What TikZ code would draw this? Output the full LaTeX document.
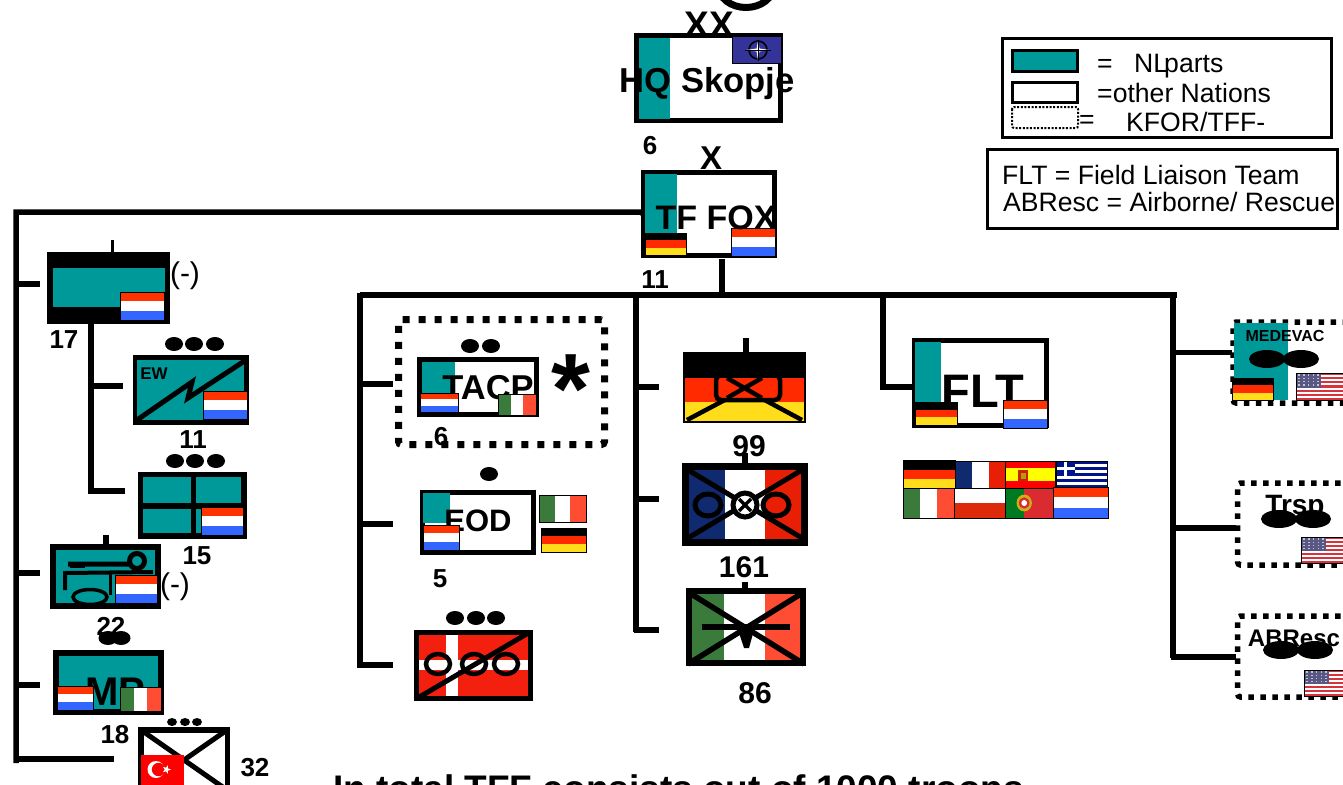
\documentclass[tikz,border=0pt]{standalone}
\usepackage{fontspec}
\setmainfont{Liberation Sans}
\definecolor{nlteal}{HTML}{009999}
\definecolor{nlred}{HTML}{FF3300}
\definecolor{nlblue}{HTML}{3366FF}
\definecolor{dered}{HTML}{FF2A00}
\definecolor{degold}{HTML}{FFDD1A}
\definecolor{itgreen}{HTML}{3A7A3A}
\definecolor{itred}{HTML}{FF4D33}
\definecolor{frblue}{HTML}{0F2A6E}
\definecolor{frred}{HTML}{E81E05}
\definecolor{dkred}{HTML}{F32010}
\definecolor{natoblue}{HTML}{333399}
\definecolor{usblue}{HTML}{3C3B6E}
\definecolor{usred}{HTML}{D8323C}
\definecolor{grblue}{HTML}{00148C}
\definecolor{ptgreen}{HTML}{007A20}
\definecolor{ptred}{HTML}{D92B30}
\definecolor{plred}{HTML}{DC2A0A}
\definecolor{esyellow}{HTML}{FFFF00}
\tikzset{
  unitbox/.style={draw=black,line width=#1,fill=white,inner sep=0pt,anchor=north west,outer sep=0pt},
  unitbox/.default=5pt,
  bus/.style={draw=black,line width=5.5pt,line cap=butt,line join=miter},
  dotbox/.style={draw=black,line width=5.5pt,dash pattern=on 5.5pt off 6.5pt,rounded corners=3pt,inner sep=0pt,anchor=north west,outer sep=0pt},
  bigdotbox/.style={draw=black,line width=7pt,dash pattern=on 7pt off 9pt,rounded corners=3pt,inner sep=0pt,anchor=north west,outer sep=0pt},
  legbox/.style={draw,line width=3pt,inner sep=0pt,outer sep=0pt,anchor=north west},
  lab/.style={font=\fontsize{26}{28}\selectfont\bfseries,inner sep=0pt},
  num/.style={font=\fontsize{26}{28}\selectfont\bfseries,inner sep=0pt},
  plain/.style={font=\fontsize{26.6}{28}\selectfont,inner sep=0pt,anchor=west},
}
% #1 name, #2 x1, #3 y1, #4 x2, #5 y2, #6 line width (outer box edge measured)
\newcommand\ubox[6]{\pgfmathsetmacro\bw{#4-#2-#6}\pgfmathsetmacro\bh{#5-#3-#6}%
  \pgfmathsetmacro\bx{#2+#6/2}\pgfmathsetmacro\by{#3+#6/2}%
  \node[unitbox=#6pt,minimum width=\bw pt,minimum height=\bh pt] (#1) at (\bx,\by) {};}
\newcommand\rt[5]{\fill[#5] (#1,#2) rectangle (#3,#4);}
\newcommand\flagNL[4]{\begin{scope}[shift={(#1,#2)},xscale=#3,yscale=#4]
  \fill[white](0,0) rectangle (1,1);\fill[nlred](0,0) rectangle (1,.33);\fill[nlblue](0,.67) rectangle (1,1);
  \draw[line width=1pt](0,0) rectangle (1,1);\end{scope}}
\newcommand\flagDE[4]{\begin{scope}[shift={(#1,#2)},xscale=#3,yscale=#4]
  \fill[black](0,0) rectangle (1,.34);\fill[dered](0,.34) rectangle (1,.67);\fill[degold](0,.67) rectangle (1,1);
  \draw[line width=1pt](0,0) rectangle (1,1);\end{scope}}
\newcommand\flagIT[4]{\begin{scope}[shift={(#1,#2)},xscale=#3,yscale=#4]
  \fill[white](0,0) rectangle (1,1);\fill[itgreen](0,0) rectangle (.33,1);\fill[itred](.67,0) rectangle (1,1);
  \draw[line width=1pt](0,0) rectangle (1,1);\end{scope}}
\newcommand\flagFR[4]{\begin{scope}[shift={(#1,#2)},xscale=#3,yscale=#4]
  \fill[white](0,0) rectangle (1,1);\fill[frblue](0,0) rectangle (.33,1);\fill[frred](.67,0) rectangle (1,1);
  \draw[line width=.8pt](0,0) rectangle (1,1);\end{scope}}
\newcommand\flagES[4]{\begin{scope}[shift={(#1,#2)},xscale=#3,yscale=#4]
  \fill[red](0,0) rectangle (1,1);\fill[esyellow](0,.25) rectangle (1,.75);
  \fill[dered!80!black](.26,.35) rectangle (.46,.75);\fill[degold!70!black](.31,.45) rectangle (.41,.65);
  \draw[line width=.8pt](0,0) rectangle (1,1);\end{scope}}
\newcommand\flagGR[4]{\begin{scope}[shift={(#1,#2)},xscale=#3,yscale=#4]
  \fill[white](0,0) rectangle (1,1);
  \foreach \i in {0,2,4,6,8}{\fill[grblue](0,\i/9) rectangle (1,\i/9+1/9);}
  \fill[grblue](0,0) rectangle (.37,.55);
  \fill[white](.15,0) rectangle (.22,.55);\fill[white](0,.22) rectangle (.37,.33);
  \draw[line width=.8pt](0,0) rectangle (1,1);\end{scope}}
\newcommand\flagPL[4]{\begin{scope}[shift={(#1,#2)},xscale=#3,yscale=#4]
  \fill[white](0,0) rectangle (1,.5);\fill[plred](0,.5) rectangle (1,1);
  \draw[line width=.8pt](0,0) rectangle (1,1);\end{scope}}
\newcommand\flagPT[4]{\begin{scope}[shift={(#1,#2)},xscale=#3,yscale=#4]
  \fill[ptred](0,0) rectangle (1,1);\fill[ptgreen](0,0) rectangle (.4,1);
  \fill[degold!80!black](.4,.5) ellipse (.16 and .28);\fill[ptred](.4,.5) ellipse (.11 and .19);\fill[white](.4,.5) ellipse (.06 and .1);
  \draw[line width=.8pt](0,0) rectangle (1,1);\end{scope}}
\newcommand\flagUS[4]{\begin{scope}[shift={(#1,#2)},xscale=#3,yscale=#4]
  \fill[white](0,0) rectangle (1,1);
  \foreach \i in {0,2,4,6,8,10,12}{\fill[usred](0,\i/13) rectangle (1,\i/13+1/13);}
  \fill[usblue!85!white](0,0) rectangle (.42,.54);
  \foreach \u in {.05,.13,.21,.29,.37}{\foreach \v in {.08,.2,.32,.44}{\fill[white!70!usblue](\u-.012,\v-.025) rectangle (\u+.012,\v+.025);}}
  \draw[line width=1pt](0,0) rectangle (1,1);\end{scope}}
\newcommand\rankdots[3]{\foreach \dx in {#1}{\fill[black](\dx,#2) ellipse (#3);}}
\begin{document}
\begin{tikzpicture}[x=1pt,y=-1pt]
\useasboundingbox (0,0) rectangle (1343,784);
\clip (0,0) rectangle (1343,784);
\fill[white] (0,0) rectangle (1343,784);

% cut-off shape at the top
\draw[line width=7pt] (746,-14) ellipse (27.5 and 21.5);

% ---------- HQ
\ubox{hq}{634}{33}{783}{123}{5}
\rt{639}{38}{670}{119}{nlteal}
\fill[natoblue] (732,37) rectangle (781,64);
\draw[line width=1pt] (732,37) rectangle (781,64);
\draw[black,line width=1.6pt] (758,50) circle (9);
\fill[white] (758,41)--(759.5,48.5)--(769,50)--(759.5,51.5)--(758,60)--(756.5,51.5)--(746,50)--(756.5,48.5)--cycle;
\draw[black,line width=.6pt] (745,50)--(771,50) (758,40)--(758,61);
\node[lab,font=\fontsize{37}{38}\selectfont\bfseries] (xx) at (709,25) {XX};
\node[lab,font=\fontsize{34.6}{36}\selectfont\bfseries] (hqt) at (707,84) {HQ Skopje};
\node[num] (n6a) at (650,146) {6};

% ---------- TF FOX
\ubox{fox}{641}{170}{777}{258}{5}
\rt{645}{174}{677}{233}{nlteal}
\flagDE{645}{233}{41}{22}
\flagNL{731}{228}{44}{28}
\node[lab,font=\fontsize{33}{35}\selectfont\bfseries] (xs) at (711,158.5) {X};
\node[lab,font=\fontsize{34}{36}\selectfont\bfseries] (foxt) at (716,218) {TF FOX};
\node[num] (n11a) at (655,280) {11};

% ---------- Legends
\node[legbox,minimum width=329pt,minimum height=98pt] (leg1) at (1002,39) {};
\fill[nlteal,draw=black,line width=3pt] (1012,51) rectangle (1077,71);
\draw[line width=3pt] (1012,82) rectangle (1077,102);
\draw[line width=2pt,dash pattern=on 2pt off 1.6pt,rounded corners=2pt] (1012,107) rectangle (1078,128);
\node[plain] (l1) at (1097,66) {=};
\node[plain] (l1b) at (1134,66) {NL\kern-4pt parts};
\node[plain] (l2) at (1097,93) {=other Nations};
\node[plain] (l3a) at (1079,122) {=};
\node[plain] (l3) at (1126,122) {KFOR/TFF-};
\node[legbox,minimum width=350pt,minimum height=79pt] (leg2) at (987.5,149.5) {};
\node[plain] (l4) at (1002,175) {FLT = Field Liaison Team};
\node[plain] (l5) at (1003,202) {ABResc = Airborne/ Rescue};

% ---------- left group
\ubox{a17}{47}{252}{170}{324}{5}
\fill[black] (47,252) rectangle (170,324);
\rt{53}{268}{165}{307}{nlteal}
\flagNL{120}{292}{44}{28}
\coordinate (a17top) at (112,240);
\draw[line width=3pt] (a17top)--(112,252);
\node[font=\fontsize{30}{32}\selectfont,inner sep=0pt] (m1) at (185,276) {(-)};
\node[num] (n17) at (64,340) {17};

\ubox{ew}{133}{355}{249}{425}{6}
\rt{137}{360}{244}{420}{nlteal}
\draw[line width=5pt,line join=miter] (137,420)--(192,382)--(188,398)--(246,360);
\flagNL{203}{391}{44}{28}
\node[font=\fontsize{17}{18}\selectfont\bfseries,inner sep=0pt] (ewt) at (154,374) {EW};
\rankdots{174,194,215}{344}{9 and 7}
\node[num] (n11b) at (193,440) {11};

\ubox{b15}{138}{472}{247}{539}{6}
\rt{143}{477}{241}{533}{nlteal}
\draw[line width=5.5pt] (193.5,472)--(193.5,539) (138,506)--(247,506);
\flagNL{201}{507}{42}{28}
\rankdots{175,195,216}{461}{9 and 7}
\node[num] (n15) at (197,556) {15};

\ubox{c22}{50}{544}{161}{609}{6}
\rt{56}{550}{155}{603}{nlteal}
\draw[line width=5pt] (68,564)--(129,564) (137,561) circle (7.5);
\draw[line width=4pt] (70,566)--(85,566);
\draw[line width=4pt] (65,590)--(65,573)--(153,572);
\draw[line width=3pt] (110,574)--(110,595);
\draw[line width=3.5pt] (90,597) ellipse (17 and 7.5);
\flagNL{115}{575}{42}{28}
\coordinate (c22top) at (106,535);
\draw[line width=5.5pt] (c22top)--(106,544);
\node[font=\fontsize{30}{32}\selectfont,inner sep=0pt] (m2) at (175,587) {(-)};
\node[num] (n22) at (111,626) {22};

\ubox{mp}{53}{650}{164}{715}{6}
\rt{59}{656}{158}{709}{nlteal}
\node[lab,font=\fontsize{40}{42}\selectfont\bfseries] (mpt) at (115,692) {MP};
\flagNL{57}{686}{36}{24}
\flagIT{120}{687}{41}{24}
\rankdots{108,121}{638}{9.5 and 7}
\node[num] (n18) at (115,735) {18};

\ubox{tu}{138}{727}{230}{800}{5.5}
\draw[line width=5pt] (141,730)--(227,790) (227,730)--(141,790);
\fill[red] (141,755) rectangle (184,786);
\fill[white] (156,769.5) circle (8.5);
\fill[red] (158.5,769.5) circle (6.7);
\fill[white] (171,769.5)--(168,768.4)--(167.9,765.2)--(166,767.7)--(163,766.8)--(164.7,769.5)--(163,772.2)--(166,771.3)--(167.9,773.8)--(168,770.6)--cycle;
\rankdots{172,185,197}{722}{5 and 4}
\node[num] (n32) at (255,768) {32};

% left bus
\coordinate (lcorner) at (16,212);
\coordinate (lbot) at (16,763);
\draw[bus] (fox.west)--(640,212)--(lcorner)--(lbot);
\coordinate (j17) at (40,284);\draw[bus] (16,284)--(j17);
\coordinate (j22) at (40,573);\draw[bus] (16,573)--(j22);
\coordinate (jmp) at (40,685);\draw[bus] (16,685)--(jmp);
\coordinate (jtu) at (114,759);\draw[bus] (16,759)--(jtu);
\coordinate (s17) at (91,324);
\coordinate (s15) at (91,491);
\coordinate (jew) at (123,386);
\coordinate (j15) at (125,491);
\draw[bus] (s17)--(s15)--(j15);
\draw[bus] (91,386)--(jew);

% central bus
\coordinate (busL) at (360,295);
\coordinate (busR) at (1177,295);
\draw[bus] (722,259)--(722,295);
\draw[bus] (busL)--(busR);
\draw[bus] (360,293)--(360,667.5);
\coordinate (j1a) at (393,384);\draw[bus] (360,384)--(j1a);
\coordinate (j1b) at (393,524);\draw[bus] (360,524)--(j1b);
\coordinate (j1c) at (393,665);\draw[bus] (358,665)--(j1c);
\draw[bus] (636,293)--(636,632);
\coordinate (j2a) at (659,387);\draw[bus] (636,387)--(j2a);
\coordinate (j2b) at (659,499);\draw[bus] (636,499)--(j2b);
\coordinate (j2c) at (659,630);\draw[bus] (634,630)--(j2c);
\draw[bus] (883,293)--(883,387)--(912,387);
\draw[bus] (1173,293)--(1173,658);
\draw[bus] (1173,352.5)--(1232,352.5);
\draw[bus] (1173,528)--(1236,528);
\draw[bus] (1171,657)--(1236,657);

% ---------- TACP
\node[bigdotbox,minimum width=206pt,minimum height=125pt] (tacpd) at (398.5,319.5) {};
\ubox{tacp}{417}{357}{539}{417}{5}
\rt{422}{362}{455}{393}{nlteal}
\node[lab,font=\fontsize{34.5}{36}\selectfont\bfseries] (tacpt) at (488,388) {TACP};
\flagNL{420}{393}{38}{19}
\flagIT{498}{394}{38}{21}
\rankdots{470,491}{346}{9 and 7}
\node[font=\fontsize{100}{102}\selectfont\bfseries,inner sep=0pt] (star) at (571,389) {*};
\node[num] (n6b) at (441,437) {6};

% ---------- EOD
\ubox{eod}{420}{490}{536}{555}{5}
\rt{423}{493}{450}{523}{nlteal}
\node[lab,font=\fontsize{31}{33}\selectfont\bfseries] (eodt) at (478,521) {EOD};
\flagNL{423}{525}{36}{25}
\flagIT{539}{495}{47}{27}
\flagDE{541}{528}{45}{24}
\fill (489,474) ellipse (9 and 7);
\node[num] (n5) at (440,579) {5};

% ---------- Danish
\ubox{dk}{414}{630}{533}{701}{5.5}
\rt{419}{635}{528}{696}{dkred}
\rt{446}{635}{458}{696}{white}
\rt{419}{660}{528}{670}{white}
\draw[line width=5pt] (416,699)--(530,632);
\draw[line width=4.5pt] (438,664) ellipse (12 and 10) (474,664) ellipse (12 and 10) (506,664) ellipse (12 and 10);
\rankdots{455,476,496}{618}{9 and 7}

% ---------- German
\ubox{de}{683}{352}{806}{423}{4}
\rt{685}{354}{804}{378}{black}
\rt{685}{378}{804}{402}{dered}
\rt{685}{402}{804}{421}{degold}
\draw[line width=4.5pt] (687,420)--(800,360) (802,420)--(690,360);
\fill[black] (685,354) rectangle (804,378);
\fill[dered] (720,378) rectangle (776,398);
\draw[line width=4.5pt] (727,378)--(762,398) (762,378)--(727,398);
\draw[line width=4.5pt,rounded corners=5pt] (716,375) rectangle (780,400);
\coordinate (detop) at (746,338);
\draw[line width=5.5pt] (detop)--(746,352);
\node[num,font=\fontsize{30}{32}\selectfont\bfseries] (n99) at (749,446) {99};

% ---------- French
\ubox{fr}{682}{463}{808}{546}{7}
\rt{689}{470}{725}{539}{frblue}
\rt{725}{470}{765}{539}{white}
\rt{765}{470}{801}{539}{frred}
\draw[line width=5pt] (688,470)--(802,538) (802,470)--(688,538);
\draw[line width=5pt,fill=frblue] (708,505) ellipse (13 and 11);
\draw[line width=5pt,fill=frred] (776,505) ellipse (13 and 11);
\draw[line width=5pt,fill=white] (745,505) circle (12);
\draw[line width=3.5pt] (739,499)--(751,511) (751,499)--(739,511);
\coordinate (frtop) at (745,453);
\draw[line width=5.5pt] (frtop)--(745,463);
\node[num,font=\fontsize{30}{32}\selectfont\bfseries] (n161) at (744,567) {161};

% ---------- Italian
\ubox{it}{686}{588}{806}{666}{6}
\rt{692}{594}{724}{660}{itgreen}
\rt{724}{594}{765}{660}{white}
\rt{765}{594}{800}{660}{itred}
\draw[line width=5.5pt] (688,592)--(804,664) (804,592)--(688,664);
\draw[line width=5.5pt] (702,627)--(790,627);
\fill (738,630)--(754,630)--(749,648)--(744,648)--cycle;
\coordinate (ittop) at (745,582);
\draw[line width=5.5pt] (ittop)--(745,588);
\node[num,font=\fontsize{30}{32}\selectfont\bfseries] (n86) at (755,693) {86};

% ---------- FLT
\ubox{flt}{912}{338}{1049}{428}{5}
\rt{915}{342}{941}{402}{nlteal}
\node[lab,font=\fontsize{47}{49}\selectfont\bfseries] (fltt) at (983,391) {FLT};
\flagDE{915}{402}{42}{23}
\flagNL{1003}{400}{44}{28}

% ---------- Flag grid
\flagDE{903}{460}{52}{28}
\flagFR{955}{461}{50}{27}
\flagES{1005}{461}{50}{27}
\flagGR{1056}{461}{51}{27}
\flagIT{903}{488}{51}{30}
\flagPL{954}{488}{51}{30}
\flagPT{1005}{488}{48}{30}
\flagNL{1053}{487}{55}{31}

% ---------- Right group
\node[dotbox,minimum width=130pt,minimum height=81pt] (med) at (1233,322) {};
\rt{1234}{323}{1288}{400}{nlteal}
\flagDE{1232}{378}{41}{22}
\flagUS{1296}{373}{60}{27}
\node[font=\fontsize{16}{18}\selectfont\bfseries,inner sep=0pt] (medt) at (1285,336) {MEDEVAC};
\fill (1267,359) ellipse (18 and 9) (1301,359) ellipse (18 and 9);

\node[dotbox,minimum width=130pt,minimum height=82pt] (trsp) at (1237.5,483) {};
\node[font=\fontsize{28}{30}\selectfont\bfseries,inner sep=0pt] (trspt) at (1295,508) {Trsp};
\fill (1279,519) ellipse (18 and 9) (1313,519) ellipse (18 and 9);
\flagUS{1301}{537}{60}{26}

\node[dotbox,minimum width=130pt,minimum height=81pt] (abr) at (1237.5,616) {};
\node[font=\fontsize{24}{26}\selectfont\bfseries,inner sep=0pt] (abrt) at (1294,638) {ABResc};
\fill (1281,650) ellipse (18 and 9) (1315,650) ellipse (18 and 9);
\flagUS{1304}{670}{60}{26}

% ---------- bottom text
\node[font=\fontsize{37}{39}\selectfont\bfseries,inner sep=0pt,anchor=base west] (total) at (333,801.5) {In total TFF consists out of 1000 troops};
\end{tikzpicture}
\end{document}
